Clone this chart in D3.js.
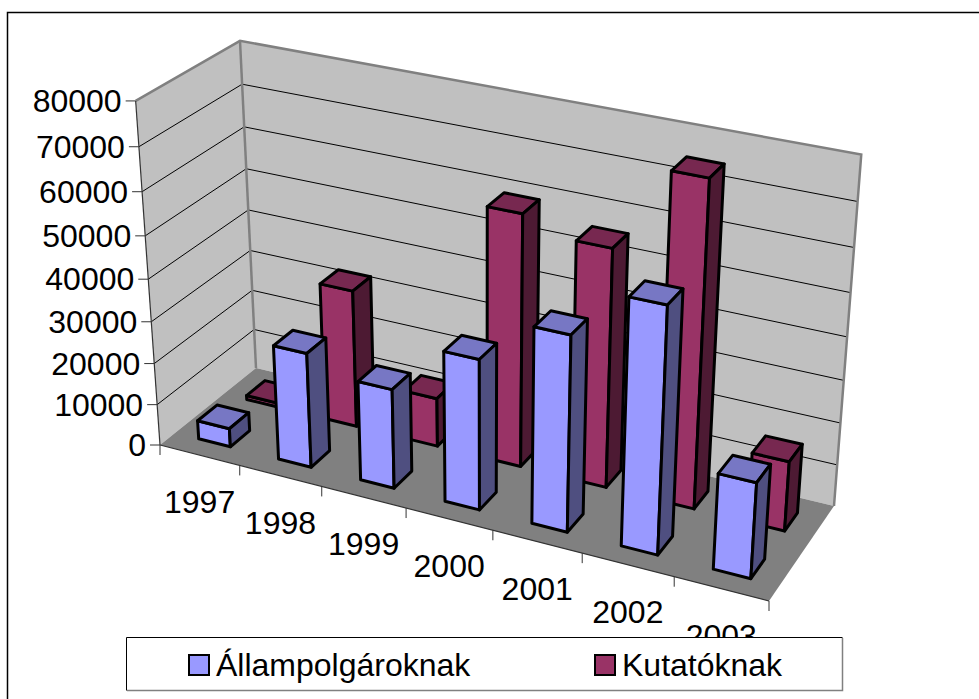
<!DOCTYPE html>
<html>
<head>
<meta charset="utf-8">
<script src="https://cdn.jsdelivr.net/npm/d3@7"></script>
<style>
  body { margin: 0; background: #fff; }
  text { font-family: "Liberation Sans", Arial, sans-serif; fill: #000; }
</style>
</head>
<body>
<div id="chart"></div>
<script>
const years = ["1997", "1998", "1999", "2000", "2001", "2002", "2003"];
const seriesNames = ["Állampolgároknak", "Kutatóknak"];
const allampolgaroknak = [4500, 27500, 23700, 35400, 45500, 56500, 22200];
const kutatoknak = [1000, 33300, 11800, 59600, 56000, 75300, 16500];
const valueTicks = [0, 10000, 20000, 30000, 40000, 50000, 60000, 70000, 80000];

const width = 979;
const height = 699;

const colors = [
  { front: "#9999ff", top: "#7777c4", side: "#4f4f80" },
  { front: "#993366", top: "#772850", side: "#4d1a33" },
];

// screen corners of the chart box, [x, y]
const corner = {
  p000: [160, 445], // front left floor
  p100: [769, 601], // front right floor
  p010: [256, 368], // back left floor
  p110: [834, 506], // back right floor
  p001: [136, 102], // front left top
  p011: [239, 44], // back left top
  p111: [862, 150], // back right top
};

// least squares for the perspective denominators
function solve2(rows) {
  let a = 0, b = 0, c = 0, d = 0, e = 0;
  rows.forEach(([r0, r1, r2]) => {
    a += r0 * r0; b += r0 * r1; c += r1 * r1;
    d += r0 * r2; e += r1 * r2;
  });
  const det = a * c - b * b;
  return [(d * c - b * e) / det, (a * e - b * d) / det];
}

function makeProjection() {
  const D = corner.p000, X = corner.p100, Y = corner.p010, XY = corner.p110;
  const [g, h] = solve2(
    [0, 1].map((k) => [
      X[k] - XY[k],
      Y[k] - XY[k],
      XY[k] + D[k] - X[k] - Y[k],
    ])
  );
  const A = X.map((v, k) => v * (g + 1) - D[k]);
  const B = Y.map((v, k) => v * (h + 1) - D[k]);

  // fit the height vector and its perspective term on the three top corners
  const tops = [
    [corner.p001, 0, 0],
    [corner.p011, 0, 1],
    [corner.p111, 1, 1],
  ];
  let num = 0, den = 0;
  const rhsMeans = [];
  const topMeans = [];
  [0, 1].forEach((k) => {
    const rhs = tops.map(([P, x, y]) => P[k] * (g * x + h * y + 1) - A[k] * x - B[k] * y - D[k]);
    const ps = tops.map(([P]) => P[k]);
    rhsMeans[k] = d3.mean(rhs);
    topMeans[k] = d3.mean(ps);
    ps.forEach((p, n) => {
      num += (p - topMeans[k]) * (rhs[n] - rhsMeans[k]);
      den += (p - topMeans[k]) * (p - topMeans[k]);
    });
  });
  const i = -num / den;
  const C = [0, 1].map((k) => rhsMeans[k] + topMeans[k] * i);

  return (x, y, z) => {
    const w = g * x + h * y + i * z + 1;
    return [0, 1].map((k) => (A[k] * x + B[k] * y + C[k] * z + D[k]) / w);
  };
}

const project = makeProjection();

const xScale = d3.scaleBand().domain(years).range([0, 1]).paddingInner(0.6).paddingOuter(0.3);
const depthScale = d3.scaleBand().domain(seriesNames).range([0, 1]).paddingInner(0.6).paddingOuter(0.3);
const valueScale = d3.scaleLinear().domain([0, 80000]).range([0, 1]);
const tickScale = d3.scalePoint().domain(d3.range(years.length + 1)).range([0, 1]);

const line = d3.line();
const poly = (pts) => line(pts.map((p) => project(...p))) + "Z";

const svg = d3
  .select("#chart")
  .append("svg")
  .attr("width", width)
  .attr("height", height)
  .style("display", "block");

// outer frame, runs off the right and bottom edges
svg
  .append("path")
  .attr("d", `M7.5,${height + 2}V12.5H${width + 2}`)
  .attr("fill", "none")
  .attr("stroke", "#000")
  .attr("stroke-width", 1.5);

// walls and floor
svg.append("path").attr("d", poly([[0, 0, 0], [0, 1, 0], [0, 1, 1], [0, 0, 1]])).attr("fill", "#c0c0c0");
svg.append("path").attr("d", poly([[0, 1, 0], [1, 1, 0], [1, 1, 1], [0, 1, 1]])).attr("fill", "#c0c0c0");
svg.append("path").attr("d", poly([[0, 0, 0], [1, 0, 0], [1, 1, 0], [0, 1, 0]])).attr("fill", "#808080");

// gridlines
const grid = svg.append("g");
valueTicks.slice(1, -1).forEach((v) => {
  const z = valueScale(v);
  grid
    .append("path")
    .attr("d", line([project(0, 0, z), project(0, 1, z), project(1, 1, z)]))
    .attr("fill", "none")
    .attr("stroke", "#000")
    .attr("stroke-width", 1);
});

// wall outlines
svg
  .append("path")
  .attr("d", line([project(0, 0, 1), project(0, 1, 1), project(1, 1, 1), project(1, 1, 0)]))
  .attr("fill", "none")
  .attr("stroke", "#808080")
  .attr("stroke-width", 2.5);
svg
  .append("path")
  .attr("d", line([project(0, 1, 0), project(0, 1, 1)]))
  .attr("fill", "none")
  .attr("stroke", "#808080")
  .attr("stroke-width", 2.5);

// axes
const axis = svg.append("g").attr("stroke", "#333").attr("fill", "none");
axis.append("path").attr("d", line([project(0, 0, 0), project(0, 0, 1)])).attr("stroke-width", 1.2);
axis.append("path").attr("d", line([project(0, 0, 0), project(1, 0, 0)])).attr("stroke-width", 1.2);

valueTicks.forEach((v) => {
  const [tx, ty] = project(0, 0, valueScale(v));
  axis.append("path").attr("d", `M${tx - 10},${ty}H${tx}`).attr("stroke-width", 1);
  svg
    .append("text")
    .attr("x", tx - 14)
    .attr("y", ty + 11)
    .attr("text-anchor", "end")
    .attr("font-size", 32)
    .text(v);
});

tickScale.domain().forEach((t) => {
  const [tx, ty] = project(tickScale(t), 0, 0);
  axis.append("path").attr("d", `M${tx},${ty}V${ty + 10}`).attr("stroke-width", 1);
});

years.forEach((year) => {
  const [tx, ty] = project(xScale(year) + xScale.bandwidth() / 2, 0, 0);
  svg
    .append("text")
    .attr("x", tx)
    .attr("y", ty + 58)
    .attr("text-anchor", "middle")
    .attr("font-size", 32)
    .text(year);
});

// bars, back series first so the front one covers it
function drawBar(g, year, value, series, c) {
  const x0 = xScale(year);
  const x1 = x0 + xScale.bandwidth();
  const y0 = depthScale(series);
  const y1 = y0 + depthScale.bandwidth();
  const z = valueScale(value);
  const faces = [
    [[x0, y0, 0], [x1, y0, 0], [x1, y0, z], [x0, y0, z], c.front],
    [[x0, y0, z], [x1, y0, z], [x1, y1, z], [x0, y1, z], c.top],
    [[x1, y0, 0], [x1, y1, 0], [x1, y1, z], [x1, y0, z], c.side],
  ];
  faces.forEach((f) => {
    g.append("path")
      .attr("d", poly(f.slice(0, 4)))
      .attr("fill", f[4])
      .attr("stroke", "#000")
      .attr("stroke-width", 3)
      .attr("stroke-linejoin", "round");
  });
}

const bars = svg.append("g");
years.forEach((year, i) => drawBar(bars, year, kutatoknak[i], seriesNames[1], colors[1]));
years.forEach((year, i) => drawBar(bars, year, allampolgaroknak[i], seriesNames[0], colors[0]));

// legend
const legend = svg.append("g");
legend.append("rect").attr("x", 127).attr("y", 638).attr("width", 715).attr("height", 52).attr("fill", "#fff");
legend
  .append("path")
  .attr("d", "M126.5,690.5V637.5H842.5")
  .attr("fill", "none")
  .attr("stroke", "#000")
  .attr("stroke-width", 1);
legend
  .append("path")
  .attr("d", "M127,690.5H842.5V638")
  .attr("fill", "none")
  .attr("stroke", "#808080")
  .attr("stroke-width", 1.5);

const legendX = d3.scaleOrdinal().domain(seriesNames).range([189, 595]);
seriesNames.forEach((name, i) => {
  legend
    .append("rect")
    .attr("x", legendX(name))
    .attr("y", 655)
    .attr("width", 20)
    .attr("height", 20)
    .attr("fill", colors[i].front)
    .attr("stroke", "#000")
    .attr("stroke-width", 2);
  legend
    .append("text")
    .attr("x", legendX(name) + 27)
    .attr("y", 676)
    .attr("font-size", 32)
    .text(name);
});
</script>
</body>
</html>
